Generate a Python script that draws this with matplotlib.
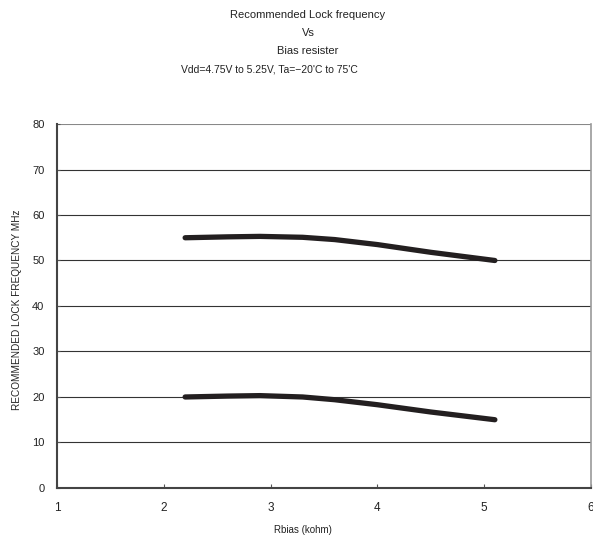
import matplotlib
matplotlib.use("Agg")
import matplotlib.pyplot as plt

plt.rcParams['font.family'] = ['Liberation Sans', 'DejaVu Sans']

rbias = [2.2, 2.6, 2.9, 3.3, 3.6, 4.0, 4.5, 5.1]
upper = [55.0, 55.2, 55.3, 55.1, 54.6, 53.5, 51.8, 50.0]
lower = [20.0, 20.2, 20.3, 20.0, 19.4, 18.3, 16.7, 15.0]
xticks = [1, 2, 3, 4, 5, 6]
yticks = [0, 10, 20, 30, 40, 50, 60, 70, 80]

fig = plt.figure(figsize=(5.93, 5.35), dpi=100)
ax = fig.add_axes([0.0961, 0.0879, 0.9005, 0.6803])

for y in yticks[1:-1]:
    ax.axhline(y, color='#333333', lw=0.8, zorder=1)
ax.axhline(80, color='#888888', lw=1.5, zorder=1)

lc = '#231f20'
ax.plot(rbias, upper, color=lc, lw=3.8, solid_capstyle='round', zorder=3)
ax.plot(rbias, lower, color=lc, lw=3.8, solid_capstyle='round', zorder=3)

ax.set_xlim(1, 6)
ax.set_ylim(0, 80)
ax.set_xticks(xticks)
ax.set_yticks(yticks)
ax.tick_params(axis='x', direction='in', length=3, width=0.8, color='#555555',
               labelsize=8.5, pad=10, labelcolor='#222222')
ax.tick_params(axis='y', direction='in', length=2, width=0.8, color='#555555',
               labelsize=8, pad=9, labelcolor='#222222')

for s in ['left', 'bottom']:
    ax.spines[s].set_color('#444444')
    ax.spines[s].set_linewidth(1.5)
ax.spines['top'].set_visible(False)
ax.spines['right'].set_color('#999999')
ax.spines['right'].set_linewidth(1.2)

fig.text(303/593, 1 - 530/535, 'Rbias (kohm)', ha='center', va='center', fontsize=7, color='#222222')
fig.text(17/593, 1 - 310/535, 'RECOMMENDED LOCK FREQUENCY MHz', ha='center', va='center',
         rotation=90, fontsize=7.2, color='#222222')

tx = 308/593
fig.text(tx, 1 - 15/535, 'Recommended Lock frequency', ha='center', va='center', fontsize=8, color='#222222')
fig.text(tx, 1 - 33/535, 'Vs', ha='center', va='center', fontsize=8, color='#222222')
fig.text(tx, 1 - 51/535, 'Bias resister', ha='center', va='center', fontsize=8, color='#222222')
fig.text(269/593, 1 - 69/535, 'Vdd=4.75V to 5.25V, Ta=\u221220\'C to 75\'C', ha='center', va='center', fontsize=7.5, color='#222222')

fig.savefig('out.png', dpi=100)
